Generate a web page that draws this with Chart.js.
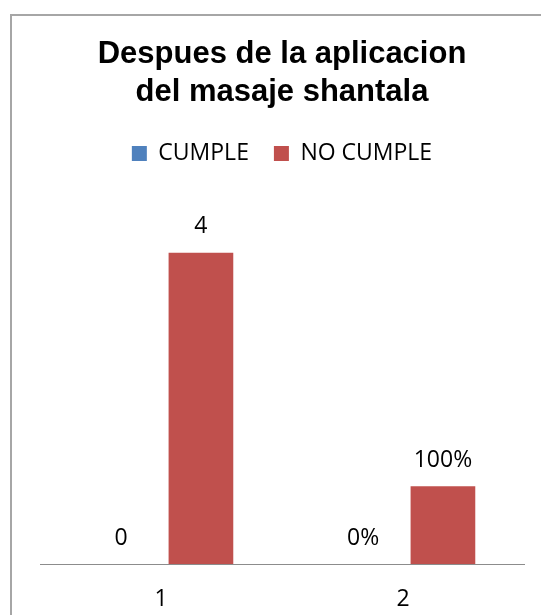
<!DOCTYPE html>
<html lang="es">
<head>
<meta charset="UTF-8">
<title>Despues de la aplicacion del masaje shantala</title>
<script src="https://cdn.jsdelivr.net/npm/chart.js"></script>
<style>
    html, body { margin: 0; padding: 0; background: #fff; }
    .grafico { position: relative; width: 541px; height: 615px; }
</style>
</head>
<body>
<div class="grafico">
    <canvas id="myChart"></canvas>
</div>

<script>
    const categorias = ['1', '2'];
    const cumple = [0, 0];
    const noCumple = [4, 1];
    // la segunda categoria va en porcentaje (1 = 100%)
    const formatos = ['numero', 'porcentaje'];

    function texto_valor(valor, indice) {
        if (formatos[indice] === 'porcentaje') {
            return Math.round(valor * 100) + '%';
        }
        return String(valor);
    }

    // fondo blanco y marco gris del grafico
    const marco = {
        id: 'marco',
        beforeDraw(chart) {
            const ctx = chart.ctx;
            ctx.save();
            ctx.fillStyle = '#ffffff';
            ctx.fillRect(0, 0, chart.width, chart.height);
            ctx.strokeStyle = '#a6a6a6';
            ctx.lineWidth = 2;
            ctx.strokeRect(11, 15, chart.width + 20, chart.height + 20);
            ctx.restore();
        }
    };

    // etiquetas encima de cada barra
    const etiquetas = {
        id: 'etiquetas',
        afterDatasetsDraw(chart) {
            const ctx = chart.ctx;
            ctx.save();
            ctx.font = '23px "Open Sans"';
            ctx.fillStyle = '#000000';
            ctx.textAlign = 'center';
            ctx.textBaseline = 'middle';
            chart.data.datasets.forEach(function (ds, i) {
                chart.getDatasetMeta(i).data.forEach(function (barra, j) {
                    ctx.fillText(texto_valor(ds.data[j], j), barra.x, barra.y - 26);
                });
            });
            ctx.restore();
        }
    };

    const data = {
        labels: categorias,
        datasets: [{
            label: 'CUMPLE',
            backgroundColor: '#4F81BD',
            data: cumple
        }, {
            label: 'NO CUMPLE',
            backgroundColor: '#C0504D',
            data: noCumple
        }]
    };

    const config = {
        type: 'bar',
        data: data,
        plugins: [marco, etiquetas],
        options: {
            responsive: true,
            maintainAspectRatio: false,
            animation: false,
            devicePixelRatio: 1,
            categoryPercentage: 0.66,
            barPercentage: 0.81,
            layout: {
                padding: { left: 40, right: 17, top: 0, bottom: 0 }
            },
            plugins: {
                title: {
                    display: true,
                    text: ['Despues de la aplicacion', 'del masaje shantala'],
                    color: '#000000',
                    font: { family: '"Liberation Sans", Arial, sans-serif', size: 31, weight: 'bold', lineHeight: '38px' },
                    padding: { top: 35, bottom: 6 }
                },
                legend: {
                    display: true,
                    position: 'top',
                    labels: {
                        color: '#000000',
                        font: { family: '"Open Sans", sans-serif', size: 23 },
                        boxWidth: 15,
                        boxHeight: 15,
                        padding: 25
                    }
                },
                tooltip: { enabled: false }
            },
            scales: {
                x: {
                    grid: { display: false, drawTicks: false },
                    border: { display: true, color: '#8c8c8c', width: 1 },
                    ticks: {
                        color: '#000000',
                        font: { family: '"Open Sans", sans-serif', size: 23 },
                        padding: 22
                    },
                    afterFit(scale) {
                        scale.height = 51;
                    }
                },
                y: {
                    display: false,
                    min: 0,
                    max: 5
                }
            }
        }
    };

    const myChart = new Chart(document.getElementById('myChart'), config);
</script>
</body>
</html>
